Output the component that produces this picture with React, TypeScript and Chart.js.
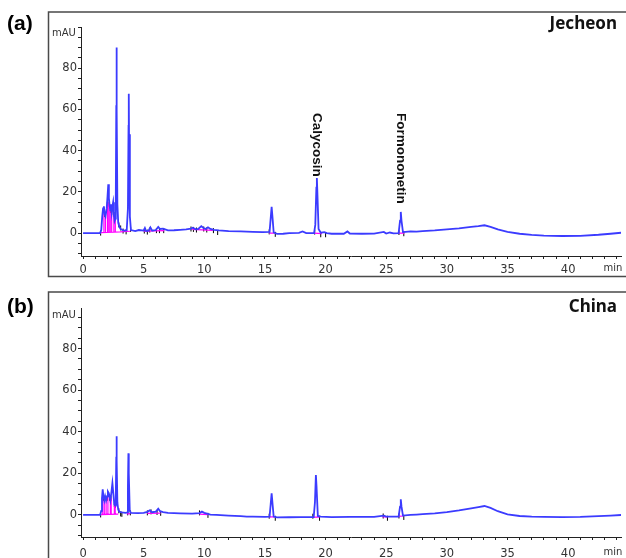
import React, { useEffect, useRef } from 'react';
import { Chart, registerables } from 'chart.js';

Chart.register(...registerables);

// ---------- data (retention time in min, absorbance in mAU) ----------
const timeA = [0, 1.4, 1.5, 1.58, 1.65, 1.72, 1.78, 1.85, 1.95, 2.02, 2.08, 2.13, 2.18, 2.24, 2.3, 2.36, 2.42, 2.48, 2.54, 2.6, 2.66, 2.7, 2.74, 2.76, 2.78, 2.83, 2.9, 3.0, 3.1, 3.25, 3.4, 3.6, 3.7, 3.75, 3.77, 3.79, 3.86, 3.95, 4.3, 4.6, 5.0, 5.1, 5.2, 5.4, 5.55, 5.7, 6.0, 6.2, 6.35, 6.6, 7.0, 7.5, 8.0, 8.5, 8.9, 9.05, 9.3, 9.5, 9.75, 9.9, 10.1, 10.3, 10.5, 10.8, 11.2, 12, 13, 14, 14.8, 15.38, 15.47, 15.55, 15.63, 15.72, 16.0, 16.5, 17, 17.8, 18.1, 18.4, 19.05, 19.15, 19.24, 19.28, 19.32, 19.42, 19.6, 19.9, 20.1, 20.5, 21.5, 21.8, 22.0, 23, 24, 24.8, 25.0, 25.3, 25.6, 26.02, 26.14, 26.2, 26.26, 26.38, 26.6, 27, 27.5, 28, 29, 30, 31, 32, 32.6, 33.1, 33.6, 34.2, 35, 36, 37, 38, 39.5, 41, 42.5, 43.5, 44.4];
const mauA = [0, 0, 1.5, 8, 12, 13, 9, 8, 12, 18, 23.7, 17, 14, 11, 14, 10, 13, 15, 9, 6, 7, 18, 62, 90, 60, 14, 5, 3, 2, 1.5, 1.2, 1.4, 12, 52, 67.6, 48, 8, 1.5, 1.0, 1.5, 1.2, 2.5, 1.0, 1.2, 2.8, 1.2, 1.5, 3, 2, 2.2, 1.3, 1.4, 1.6, 1.8, 2.2, 2.6, 1.8, 2.0, 3.4, 2.6, 2.0, 2.8, 2.0, 1.6, 1.3, 1.0, 0.8, 0.6, 0.5, 0.6, 7, 12.7, 7, 0.3, -0.4, -0.3, 0, 0.1, 0.8, 0, 0, 4, 22, 26.7, 20, 2, 0.2, 0.5, 0, -0.3, -0.3, 0.8, -0.2, -0.3, -0.2, 0.6, -0.2, 0.3, -0.1, 0, 6, 10.3, 6, 0.5, 0.6, 0.8, 0.7, 1.0, 1.3, 1.8, 2.3, 3.0, 3.4, 3.8, 3.0, 1.8, 0.6, -0.3, -0.9, -1.2, -1.4, -1.3, -0.8, -0.3, 0.2];

const timeB = [0, 1.4, 1.5, 1.56, 1.62, 1.68, 1.75, 1.82, 1.9, 1.98, 2.05, 2.12, 2.18, 2.25, 2.32, 2.42, 2.5, 2.58, 2.65, 2.7, 2.74, 2.76, 2.78, 2.83, 2.9, 3.0, 3.2, 3.5, 3.64, 3.7, 3.74, 3.77, 3.85, 3.95, 4.5, 5.0, 5.3, 5.5, 5.7, 6.0, 6.2, 6.35, 6.6, 7, 8, 9, 9.6, 9.8, 10, 10.5, 11, 12, 13, 13.5, 14, 15, 15.38, 15.47, 15.55, 15.63, 15.72, 16, 17, 18, 19.02, 19.12, 19.2, 19.25, 19.36, 19.6, 20.5, 22, 23, 24, 24.8, 25, 26.02, 26.14, 26.2, 26.26, 26.38, 27, 27.5, 28, 29, 30, 31, 32, 32.6, 33.1, 33.6, 34.2, 35, 36, 37, 38, 39.5, 41, 42.5, 43.5, 44.4];
const mauB = [0, 0, 2, 8, 12.3, 9, 7, 9, 7, 9, 11.2, 10.5, 9, 7, 10, 15.2, 10, 5, 4.5, 9, 28, 37.8, 26, 6, 2.5, 1.5, 1.2, 1.0, 1.2, 14, 29.6, 20, 2, 1.0, 0.9, 1.0, 1.5, 2.2, 1.3, 1.6, 3, 1.8, 1.4, 1.0, 0.8, 0.6, 0.9, 1.6, 1.0, 0.2, 0, -0.3, -0.6, -0.8, -0.8, -0.9, -0.8, 5, 10.4, 5, -0.8, -1.2, -1.1, -1.0, -1.0, 6, 19.2, 14, -0.5, -0.8, -1.0, -0.9, -0.9, -0.9, -0.3, -0.8, -0.8, 4, 7.5, 4, -0.3, 0, 0.2, 0.4, 0.8, 1.4, 2.2, 3.2, 3.8, 4.3, 3.4, 1.8, 0.3, -0.5, -0.8, -0.9, -1.0, -0.9, -0.6, -0.3, 0];

// integration baselines / drop lines: [t1, v1, t2, v2]
const pinkA = [
  [1.45, 0.2, 3.05, 0.6], [1.72, 0.3, 1.72, 12], [1.85, 0.3, 1.85, 8], [2.02, 0.4, 2.02, 16], [2.13, 0.4, 2.13, 15],
  [2.24, 0.4, 2.24, 11], [2.36, 0.5, 2.36, 10], [2.54, 0.5, 2.54, 9], [2.66, 0.5, 2.66, 7],
  [3.05, 0.6, 3.9, 0.9], [5.0, 1.0, 6.7, 1.2], [9.0, 1.8, 10.7, 1.3], [15.35, 0.0, 15.8, 0.0],
  [19.05, 0.0, 19.7, -0.2], [26.0, 0.0, 26.5, 0.0]
];
const pinkB = [
  [1.45, 0.2, 2.9, 0.4], [1.62, 0.2, 1.62, 9], [1.75, 0.2, 1.75, 7], [1.9, 0.2, 1.9, 7], [2.05, 0.3, 2.05, 9],
  [2.25, 0.3, 2.25, 7], [2.32, 0.3, 2.32, 8], [2.58, 0.4, 2.58, 5], [2.65, 0.4, 2.65, 4.5],
  [3.6, 0.5, 3.9, 0.6], [5.3, 0.8, 6.4, 0.9], [9.6, 0.4, 10.3, 0.2], [15.35, -0.9, 15.8, -0.9],
  [19.0, -1.0, 19.5, -1.0], [24.7, -0.9, 25.1, -0.9], [26.0, -0.7, 26.4, -0.5]
];

// peak start/end event marks: [t, v]
const markA = [[1.45, 0], [1.78, 9], [1.85, 8], [2.0, 14], [2.15, 14], [2.26, 11], [2.36, 10], [2.55, 9], [2.66, 7], [2.95, 4], [3.1, 2.5], [3.3, 1], [3.55, 0.6], [3.92, 1.8], [5.05, 1], [5.3, 0.5], [5.5, 1.5], [6.05, 1.2], [6.3, 1.2], [6.65, 1.2], [8.9, 2], [9.1, 1.8], [9.35, 1.5], [9.95, 2], [10.2, 1.5], [10.75, 1.2], [11.1, 0.3], [15.35, 0.6], [15.85, -0.6], [19.1, 0.5], [19.6, -0.8], [20.0, -0.8], [26.05, 0.3], [26.45, -0.3]];
const markB = [[1.45, 0], [1.68, 8], [1.8, 8], [2.0, 8], [2.2, 8], [2.3, 8], [2.58, 5], [2.66, 4.5], [2.95, 2], [3.1, 0.5], [3.2, 0.3], [3.68, 1], [3.9, 1], [5.3, 1], [5.6, 1.5], [6.1, 1.2], [6.4, 0.8], [9.6, 1], [10.3, -0.2], [15.35, -0.6], [15.85, -1.6], [18.95, -0.6], [19.5, -1.6], [24.75, -0.5], [25.1, -1.6], [26.05, -0.5], [26.45, -1.2]];

const xTickLabels = [0, 5, 10, 15, 20, 25, 30, 35, 40];
const yTickLabels = [0, 20, 40, 60, 80];
const compoundNames = ['Calycosin', 'Formononetin'];
const compoundTimes = [19.28, 26.2];

const panelTags = ['(a)', '(b)'];
const siteNames = ['Jecheon', 'China'];

const W = 626;

type Panel = {
  tag: string; site: string; times: number[]; vals: number[]; pink: number[][]; marks: number[][];
  height: number; chartTop: number; chartBottom: number; yMin: number; yMax: number;
  labelPad: number; frameTop: number; frameBottom: number | null; tagY: number; siteY: number;
  mauY: number; minY: number; compounds: boolean;
};

const panels: Panel[] = [
  { tag: panelTags[0], site: siteNames[0], times: timeA, vals: mauA, pink: pinkA, marks: markA,
    height: 280, chartTop: 27, chartBottom: 256, yMin: -11.1, yMax: 100, labelPad: 4,
    frameTop: 12, frameBottom: 276.5, tagY: 24, siteY: 24, mauY: 33, minY: 268, compounds: true },
  { tag: panelTags[1], site: siteNames[1], times: timeB, vals: mauB, pink: pinkB, marks: markB,
    height: 278, chartTop: 28, chartBottom: 257, yMin: -10.6, yMax: 99.5, labelPad: 7,
    frameTop: 12, frameBottom: null, tagY: 27, siteY: 27, mauY: 35, minY: 272, compounds: false },
];

function segData(segs: number[][]) {
  const out: { x: number; y: number | null }[] = [];
  segs.forEach((s) => {
    out.push({ x: s[0], y: s[1] });
    out.push({ x: s[2], y: s[3] });
    out.push({ x: s[2], y: null });
  });
  return out;
}

function makeConfig(p: Panel): any {
  const deco = {
    id: 'deco',
    afterDraw(chart: any) {
      const ctx = chart.ctx;
      const xs = chart.scales.x;
      ctx.save();
      // frame
      ctx.strokeStyle = '#4a4a4a';
      ctx.lineWidth = 1.5;
      ctx.beginPath();
      if (p.frameBottom !== null) {
        ctx.moveTo(W + 2, p.frameTop);
        ctx.lineTo(48.5, p.frameTop);
        ctx.lineTo(48.5, p.frameBottom);
        ctx.lineTo(W + 2, p.frameBottom);
      } else {
        ctx.moveTo(W + 2, p.frameTop);
        ctx.lineTo(48.5, p.frameTop);
        ctx.lineTo(48.5, p.height + 2);
      }
      ctx.stroke();
      // panel tag
      ctx.fillStyle = '#000';
      ctx.font = 'bold 21px "Liberation Sans", Arial, sans-serif';
      ctx.textAlign = 'left';
      ctx.textBaseline = 'middle';
      ctx.fillText(p.tag, 7, p.tagY);
      // site name
      ctx.font = 'bold 17px "Noto Sans", "Liberation Sans", sans-serif';
      ctx.textAlign = 'right';
      ctx.fillStyle = '#111';
      ctx.fillText(p.site, 617, p.siteY);
      // units
      ctx.font = '10px "DejaVu Sans", sans-serif';
      ctx.fillStyle = '#333';
      ctx.textAlign = 'left';
      ctx.fillText('mAU', 52, p.mauY);
      ctx.textAlign = 'center';
      ctx.fillText('min', 613, p.minY);
      // compound labels
      if (p.compounds) {
        ctx.font = 'bold 13.5px "Liberation Sans", Arial, sans-serif';
        ctx.fillStyle = '#111';
        compoundNames.forEach((name, i) => {
          const px = xs.getPixelForValue(compoundTimes[i]);
          ctx.save();
          ctx.translate(px, 113);
          ctx.rotate(Math.PI / 2);
          ctx.textAlign = 'left';
          ctx.textBaseline = 'middle';
          ctx.fillText(name, 0, 0);
          ctx.restore();
        });
      }
      ctx.restore();
    },
  };

  return {
    type: 'line',
    data: {
      datasets: [
        {
          data: p.times.map((t, i) => ({ x: t, y: p.vals[i] })),
          borderColor: '#3b3bff',
          borderWidth: 1.8,
          pointRadius: 0,
          tension: 0,
          fill: false,
        },
        {
          data: segData(p.pink),
          borderColor: '#ff00ff',
          borderWidth: 1.2,
          pointRadius: 0,
          spanGaps: false,
          fill: false,
        },
        {
          type: 'scatter',
          data: p.marks.map((m) => ({ x: m[0], y: m[1] })),
          showLine: false,
          pointStyle: 'line',
          rotation: 90,
          radius: 2.5,
          borderColor: '#000',
          borderWidth: 1,
          backgroundColor: '#000',
        },
      ],
    },
    options: {
      animation: false,
      responsive: false,
      maintainAspectRatio: false,
      events: [],
      layout: { padding: { top: p.chartTop, left: 0, right: 0, bottom: 0 } },
      plugins: { legend: { display: false }, tooltip: { enabled: false }, title: { display: false } },
      scales: {
        x: {
          type: 'linear',
          min: -0.17,
          max: 44.36,
          afterFit: (s: any) => { s.height = p.height - p.chartBottom; },
          border: { display: true, color: '#222', width: 1 },
          grid: { drawOnChartArea: false, drawTicks: true, tickLength: 3, color: '#222' },
          ticks: {
            stepSize: 1,
            autoSkip: false,
            includeBounds: false,
            maxRotation: 0,
            padding: p.labelPad,
            color: '#333',
            font: { family: '"DejaVu Sans", sans-serif', size: 11.5 },
            callback: (v: number) => (xTickLabels.includes(Math.round(v)) && Math.abs(v - Math.round(v)) < 1e-6 ? String(Math.round(v)) : ''),
          },
        },
        y: {
          min: p.yMin,
          max: p.yMax,
          afterFit: (s: any) => { s.width = 81; },
          border: { display: true, color: '#222', width: 1 },
          grid: { drawOnChartArea: false, drawTicks: true, tickLength: 3, color: '#222' },
          ticks: {
            stepSize: 5,
            autoSkip: false,
            includeBounds: false,
            padding: 1,
            color: '#333',
            font: { family: '"DejaVu Sans", sans-serif', size: 11.5 },
            callback: (v: number) => (yTickLabels.includes(Math.round(v)) && Math.abs(v - Math.round(v)) < 1e-6 ? String(Math.round(v)) : ''),
          },
        },
      },
    },
    plugins: [deco],
  };
}

function PanelChart({ p, top }: { p: Panel; top: number }) {
  const ref = useRef<HTMLCanvasElement | null>(null);
  useEffect(() => {
    if (!ref.current) return;
    const chart = new Chart(ref.current, makeConfig(p));
    return () => chart.destroy();
  }, [p]);
  return (
    <div style={{ position: 'absolute', left: 0, top, width: W, height: p.height }}>
      <canvas ref={ref} width={W} height={p.height} style={{ width: W, height: p.height, display: 'block' }} />
    </div>
  );
}

export default function App() {
  return (
    <div style={{ position: 'absolute', left: 0, top: 0, width: W, height: 558, background: '#fff', overflow: 'hidden' }}>
      <PanelChart p={panels[0]} top={0} />
      <PanelChart p={panels[1]} top={280} />
    </div>
  );
}
